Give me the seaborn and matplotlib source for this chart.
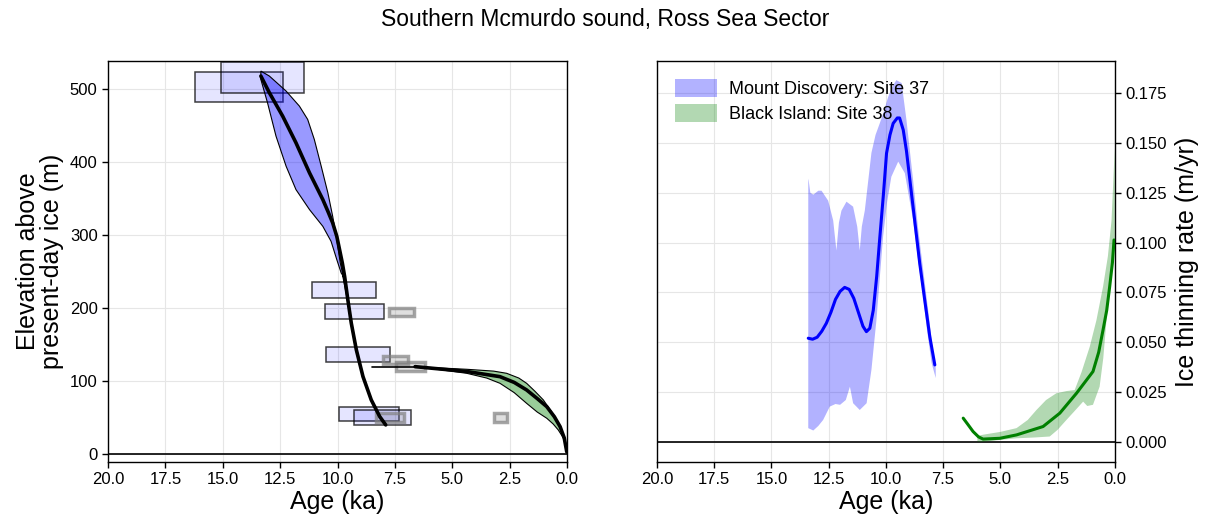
import numpy as np
import pandas as pd
import seaborn as sns
import matplotlib
matplotlib.use("Agg")
import matplotlib.pyplot as plt
from matplotlib.patches import Rectangle, Patch

# ---------------- data ----------------
title = "Southern Mcmurdo sound, Ross Sea Sector"

# Sample age/elevation boxes (Mount Discovery) : age_min, age_max, elev_min, elev_max
box_age_min = [12.37, 11.46, 8.34, 7.99, 7.70, 7.33, 6.81]
box_age_max = [16.20, 15.09, 11.10, 10.54, 10.49, 9.92, 9.28]
box_elev_min = [482.6, 494.1, 213.6, 184.5, 125.6, 45.2, 39.7]
box_elev_max = [523.7, 537.0, 235.0, 205.0, 146.2, 64.8, 60.3]

# Grey (outlier) boxes
grey_age_min = [6.65, 6.91, 6.19, 7.09, 2.60]
grey_age_max = [7.74, 8.00, 7.44, 8.32, 3.19]
grey_elev_min = [189.4, 123.0, 114.0, 44.2, 44.2]
grey_elev_max = [200.4, 134.0, 125.6, 55.7, 55.7]

# Mount Discovery elevation envelope (left plot)
md_med_elev = [517.6, 494.8, 462.7, 426.2, 385.0, 348.4, 332.4, 316.5, 298.0, 279.8, 261.6, 243.2,
               211.2, 179.3, 142.7, 106.0, 74.1, 51.2, 39.8]
md_med_age = [13.34, 12.97, 12.39, 11.81, 11.22, 10.64, 10.42, 10.21, 10.03, 9.91, 9.79, 9.69,
              9.55, 9.40, 9.18, 8.89, 8.53, 8.16, 7.90]
md_lo_elev = [524.4, 517.6, 497.0, 476.4, 458.2, 430.7, 394.1, 357.6, 325.5, 293.6, 261.6, 245.0,
              211.2, 179.3, 142.7, 106.0, 74.1, 51.2, 39.8]
md_lo_age = [13.34, 12.97, 12.24, 11.66, 11.30, 11.01, 10.71, 10.42, 10.21, 10.03, 9.88, 9.76,
             9.53, 9.38, 9.16, 8.87, 8.51, 8.14, 7.88]
md_hi_elev = [524.4, 513.0, 481.0, 435.3, 394.1, 362.1, 334.7, 311.8, 291.2, 266.1, 247.9, 245.0,
              211.2, 179.3, 142.7, 106.0, 74.1, 51.2, 39.8]
md_hi_age = [13.34, 13.34, 13.05, 12.68, 12.24, 11.81, 11.22, 10.64, 10.28, 10.03, 9.84, 9.78,
             9.57, 9.42, 9.20, 8.91, 8.55, 8.18, 7.92]

# Black Island elevation envelope (left plot)
bi_med_age = [6.62, 4.37, 2.92, 2.3, 1.76, 1.3, 0.88, 0.55, 0.30, 0.12, 0.01]
bi_med_elev = [119.6, 113.0, 105.9, 98.0, 87.7, 76.0, 64.8, 51.0, 37.4, 22.0, 3.0]
bi_hi_age = [6.62, 6.11, 4.37, 3.2, 2.63, 2.1, 1.76, 1.4, 1.03, 0.7, 0.45, 0.25, 0.09, 0.0]
bi_hi_elev = [120.0, 118.7, 116.0, 113.5, 110.5, 104.0, 96.8, 86.0, 74.0, 59.0, 46.6, 33.0, 19.2, 2.0]
bi_lo_age = [6.62, 4.37, 3.5, 2.92, 2.3, 1.76, 1.3, 0.88, 0.6, 0.38, 0.2, 0.09, 0.0]
bi_lo_elev = [120.0, 110.5, 104.0, 96.8, 84.0, 69.4, 57.5, 48.9, 41.0, 32.9, 24.0, 16.8, 2.0]
bi_start_age = [8.51, 6.11]
bi_start_elev = [119.6, 119.6]

# Thinning rates (right plot)
md_rate_age = [13.39, 13.2, 13.0, 12.8, 12.6, 12.4, 12.2, 12.0, 11.8, 11.6, 11.4, 11.2, 11.0, 10.85,
               10.7, 10.55, 10.4, 10.26, 10.1, 9.97, 9.82, 9.68, 9.5, 9.4, 9.24, 9.1, 8.95, 8.75,
               8.52, 8.3, 8.08, 7.86]
md_rate = [0.052, 0.0515, 0.0525, 0.0555, 0.0595, 0.065, 0.0715, 0.0755, 0.0775, 0.0765, 0.072,
           0.065, 0.058, 0.0553, 0.057, 0.066, 0.083, 0.103, 0.125, 0.1448, 0.154, 0.1598, 0.1625,
           0.1625, 0.1565, 0.146, 0.1314, 0.112, 0.0896, 0.071, 0.0528, 0.0386]
md_up_age = [13.39, 13.37, 13.3, 13.17, 12.95, 12.81, 12.52, 12.3, 12.16, 12.05, 11.94, 11.72, 11.43,
             11.25, 11.14, 11.05, 10.92, 10.63, 10.45, 10.26, 10.08, 9.9, 9.72, 9.54, 9.31, 9.1,
             8.81, 8.6, 8.37, 8.15, 7.93, 7.82]
md_up_rate = [0.132, 0.131, 0.125, 0.124, 0.126, 0.126, 0.121, 0.111, 0.096, 0.110, 0.116, 0.1205,
              0.118, 0.108, 0.096, 0.108, 0.116, 0.145, 0.154, 0.160, 0.166, 0.173, 0.178, 0.1815,
              0.180, 0.1615, 0.1314, 0.108, 0.0863, 0.066, 0.0445, 0.037]
md_low_age = [13.39, 13.17, 12.95, 12.74, 12.45, 12.2, 12.0, 11.75, 11.57, 11.43, 11.14, 10.84, 10.63,
              10.41, 10.26, 10.12, 9.95, 9.76, 9.46, 9.17, 8.81, 8.6, 8.37, 8.2, 8.0, 7.82]
md_low_rate = [0.0069, 0.0057, 0.008, 0.011, 0.0177, 0.019, 0.0186, 0.021, 0.0277, 0.0194, 0.016,
               0.0194, 0.0361, 0.0612, 0.083, 0.103, 0.120, 0.133, 0.1406, 0.1348, 0.1113, 0.092,
               0.0729, 0.056, 0.0395, 0.032]

bi_rate_age = [6.62, 6.4, 6.19, 5.95, 5.75, 5.02, 4.29, 3.13, 2.4, 1.67, 1.3, 0.95, 0.7, 0.51, 0.35,
               0.22, 0.1, 0.03]
bi_rate = [0.0119, 0.0085, 0.0052, 0.0025, 0.0014, 0.0018, 0.0035, 0.0077, 0.0144, 0.0244, 0.030,
           0.0353, 0.045, 0.0562, 0.066, 0.0779, 0.090, 0.1013]
bi_up_age = [6.0, 5.75, 5.0, 4.29, 3.8, 3.42, 3.0, 2.55, 2.1, 1.75, 1.45, 1.09, 0.8, 0.51, 0.3, 0.14, 0.0]
bi_up_rate = [0.003, 0.0036, 0.005, 0.0069, 0.011, 0.016, 0.021, 0.0244, 0.0255, 0.026, 0.035, 0.0478,
              0.061, 0.0779, 0.093, 0.111, 0.147]
bi_low_age = [6.0, 5.75, 5.0, 4.29, 3.5, 2.84, 2.5, 2.11, 1.75, 1.38, 1.2, 0.95, 0.66, 0.5, 0.36, 0.2,
              0.07, 0.0]
bi_low_rate = [0.0, 0.0, 0.001, 0.0018, 0.0022, 0.0027, 0.006, 0.011, 0.0155, 0.0202, 0.018, 0.0186,
               0.0277, 0.042, 0.0612, 0.08, 0.098, 0.095]

legend_labels = ["Mount Discovery: Site 37", "Black Island: Site 38"]
x_ticks = [20.0, 17.5, 15.0, 12.5, 10.0, 7.5, 5.0, 2.5, 0.0]
elev_ticks = [0, 100, 200, 300, 400, 500]
rate_ticks = [0.0, 0.025, 0.05, 0.075, 0.1, 0.125, 0.15, 0.175]

# ---------------- style ----------------
sns.set_theme(style="ticks")
plt.rcParams["font.family"] = ["Liberation Sans", "DejaVu Sans"]
plt.rcParams["axes.linewidth"] = 1.0
plt.rcParams["xtick.major.size"] = 4
plt.rcParams["ytick.major.size"] = 4
plt.rcParams["xtick.color"] = "black"
plt.rcParams["ytick.color"] = "black"
plt.rcParams["xtick.labelcolor"] = "black"
plt.rcParams["ytick.labelcolor"] = "black"
plt.rcParams["axes.edgecolor"] = "black"
plt.rcParams["axes.labelcolor"] = "black"
plt.rcParams["text.color"] = "black"

fig = plt.figure(figsize=(12.11, 5.24), dpi=100)
ax1 = fig.add_axes([0.0892, 0.1183, 0.379, 0.765])
ax2 = fig.add_axes([0.5425, 0.1183, 0.378, 0.765])

for ax in (ax1, ax2):
    ax.grid(True, color="#e6e6e6", lw=0.8, zorder=0)
    ax.set_axisbelow(True)
    ax.set_xlim(20, 0)
    ax.set_xticks(x_ticks)
    ax.set_xticklabels([f"{t:.1f}" for t in x_ticks])
    ax.tick_params(labelsize=12, direction="out", width=1.0, colors="black")
    ax.set_xlabel("Age (ka)", fontsize=18, labelpad=2)
    for s in ax.spines.values():
        s.set_visible(True)
        s.set_color("black")

# ---------- left ----------
ax1.set_ylim(-11, 538)
ax1.set_yticks(elev_ticks)
ax1.axhline(0, color="black", lw=1.2, zorder=2)

for a0, a1, e0, e1 in zip(box_age_min, box_age_max, box_elev_min, box_elev_max):
    ax1.add_patch(Rectangle((a0, e0), a1 - a0, e1 - e0, facecolor=(0, 0, 1, 0.1),
                            edgecolor=(0, 0, 0, 0.75), lw=1.1, zorder=3))
for a0, a1, e0, e1 in zip(grey_age_min, grey_age_max, grey_elev_min, grey_elev_max):
    ax1.add_patch(Rectangle((a0, e0), a1 - a0, e1 - e0, facecolor=(0.5, 0.5, 0.5, 0.25),
                            edgecolor=(0.5, 0.5, 0.5, 0.7), lw=2.5, zorder=3))

ax1.fill(list(md_lo_age) + list(md_hi_age[::-1]), list(md_lo_elev) + list(md_hi_elev[::-1]),
         facecolor=(0, 0, 1, 0.4), edgecolor="black", lw=0.8, zorder=4)
ax1.fill(list(bi_hi_age) + list(bi_lo_age[::-1]), list(bi_hi_elev) + list(bi_lo_elev[::-1]),
         facecolor=(0, 0.5, 0, 0.4), edgecolor="black", lw=0.8, zorder=4)

sns.lineplot(x=md_med_age, y=md_med_elev, sort=False, estimator=None, color="black", lw=2.6,
             ax=ax1, zorder=5)
sns.lineplot(x=bi_med_age, y=bi_med_elev, sort=False, estimator=None, color="black", lw=2.6,
             ax=ax1, zorder=5)
sns.lineplot(x=bi_start_age, y=bi_start_elev, sort=False, estimator=None, color="black", lw=1.2,
             ax=ax1, zorder=5)
ax1.set_ylabel("Elevation above\npresent-day ice (m)", fontsize=18, labelpad=4, linespacing=1.0)

# ---------- right ----------
ax2.set_ylim(-0.0101, 0.191)
ax2.set_yticks(rate_ticks)
ax2.set_yticklabels([f"{t:.3f}" for t in rate_ticks])
ax2.yaxis.tick_right()
ax2.yaxis.set_label_position("right")
ax2.axhline(0, color="black", lw=1.2, zorder=2)

ax2.fill(list(md_up_age) + list(md_low_age[::-1]), list(md_up_rate) + list(md_low_rate[::-1]),
         facecolor=(0, 0, 1, 0.3), edgecolor="none", zorder=3)
ax2.fill(list(bi_up_age) + list(bi_low_age[::-1]), list(bi_up_rate) + list(bi_low_rate[::-1]),
         facecolor=(0, 0.5, 0, 0.3), edgecolor="none", zorder=3)
sns.lineplot(x=md_rate_age, y=md_rate, sort=False, estimator=None, color="blue", lw=2.2, ax=ax2, zorder=4)
sns.lineplot(x=bi_rate_age, y=bi_rate, sort=False, estimator=None, color="green", lw=2.2, ax=ax2, zorder=4)
ax2.set_ylabel("Ice thinning rate (m/yr)", fontsize=18, labelpad=6)

handles = [Patch(facecolor=(0, 0, 1, 0.3), edgecolor="none"),
           Patch(facecolor=(0, 0.5, 0, 0.3), edgecolor="none")]
ax2.legend(handles, legend_labels, loc="upper left", frameon=False, fontsize=13,
           handlelength=2.3, handleheight=1.1, handletextpad=0.7, labelspacing=0.35,
           borderaxespad=0.6)

fig.suptitle(title, fontsize=16.5, y=0.985)
fig.savefig("out.png", dpi=100)
